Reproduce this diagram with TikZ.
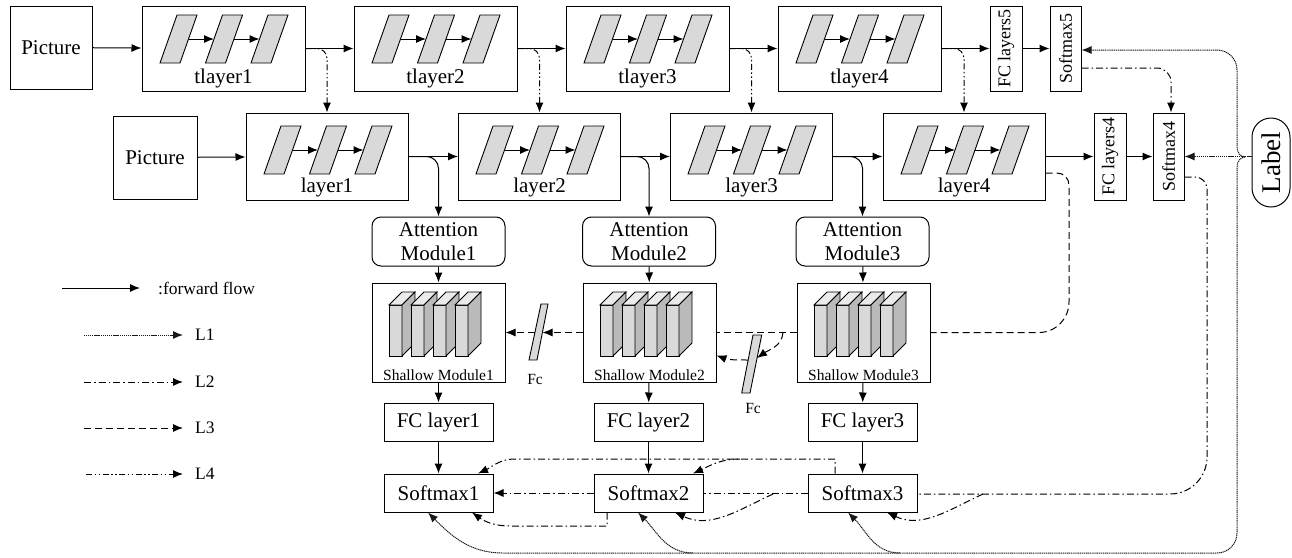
\documentclass[tikz,border=0pt]{standalone}
\usepackage{fontspec}
\setmainfont{Liberation Serif}
\usetikzlibrary{arrows.meta,calc}
\newcommand\fmain{\fontsize{21}{24}\selectfont}
\newcommand\fsmall{\fontsize{15.5}{18}\selectfont}
\newcommand\frot{\fontsize{18}{22}\selectfont}
\newcommand\fleg{\fontsize{17.5}{20}\selectfont}
\newcommand\paras[2]{%
  \foreach \k in {0,1,2}{\draw[parafill] ({#1+18+45.5*\k},{#2+48}) -- ++(20,0) -- ++(17,-48) -- ++(-20,0) -- cycle;}
  \foreach \k in {0,1}{\draw[flow] ({#1+46.5+45.5*\k},{#2+24}) -- ({#1+72+45.5*\k},{#2+24});}
}
\newcommand\blocks[1]{%
  \foreach \k in {0,1,2,3}{%
    \pgfmathsetmacro\bx{#1-49.5+22*\k}
    \draw[line width=0.8pt,fill=black!15] (\bx,305) rectangle ({\bx+13},356);
    \draw[line width=0.8pt,fill=black!8] (\bx,305) -- ({\bx+13},292) -- ({\bx+26},292) -- ({\bx+13},305) -- cycle;
    \draw[line width=0.8pt,fill=black!27] ({\bx+13},305) -- ({\bx+26},292) -- ({\bx+26},343) -- ({\bx+13},356) -- cycle;
  }
}
\begin{document}
\begin{tikzpicture}[x=1pt,y=-1pt,
  box/.style={draw, line width=1pt, inner sep=0pt, font=\fmain},
  tbox/.style={box, minimum width=163pt, minimum height=85pt},
  lbox/.style={box, minimum width=162pt, minimum height=87pt},
  lab/.style={label={[font=\fmain,anchor=south,inner sep=3pt]south:#1}},
  rotbox/.style={box, rotate=90, font=\frot, minimum height=32pt},
  attn/.style={box, rounded corners=9pt, minimum width=133pt, minimum height=49pt, align=center},
  shbox/.style={box, minimum width=133pt, minimum height=99pt, label={[font=\fsmall,anchor=south,inner sep=2pt]south:#1}},
  small/.style={box, minimum width=109pt, minimum height=38pt},
  parafill/.style={line width=0.9pt, fill=black!15},
  flow/.style={line width=1pt, -{Latex[length=10pt,width=8pt]}},
  tip/.style={-{Latex[length=10pt,width=8pt]}},
  l1/.style={line width=1pt, draw=black!90, dash pattern=on 1.2pt off 0.7pt},
  l2/.style={line width=1pt, dash pattern=on 7pt off 3pt on 1.5pt off 3pt},
  l3/.style={line width=1pt, dash pattern=on 7pt off 4pt},
  l4/.style={line width=1pt, dash pattern=on 6pt off 2.5pt on 1.5pt off 2.5pt on 1.5pt off 2.5pt},
  txt/.style={font=\fleg, anchor=west, inner sep=0pt}
]
\useasboundingbox (0,0) rectangle (1292,557);

% ---------- top (teacher) row ----------
\node[box, minimum width=82pt, minimum height=83pt] (pic1) at (51,47.5) {Picture};
\node[tbox, lab=tlayer1] (t1) at (223.5,48.5) {};
\node[tbox, lab=tlayer2] (t2) at (435.5,48.5) {};
\node[tbox, lab=tlayer3] (t3) at (647.5,48.5) {};
\node[tbox, lab=tlayer4] (t4) at (859.5,48.5) {};
\node[rotbox, minimum width=85pt] (fc5) at (1006,48.5) {FC layers5};
\node[rotbox, minimum width=85pt, minimum height=31pt] (sm5) at (1065.5,48.5) {Softmax5};
\paras{142}{15}\paras{354}{15}\paras{566}{15}\paras{778}{15}

% ---------- second (student) row ----------
\node[box, minimum width=84pt, minimum height=83pt] (pic2) at (155,157.5) {Picture};
\node[lbox, lab=layer1] (l1) at (327,156.5) {};
\node[lbox, lab=layer2] (l2) at (539.5,156.5) {};
\node[lbox, lab=layer3] (l3) at (751.5,156.5) {};
\node[lbox, lab=layer4] (l4) at (964,156.5) {};
\node[rotbox, minimum width=87pt] (fc4) at (1110,156.5) {FC layers4};
\node[rotbox, minimum width=87pt, minimum height=31pt] (sm4) at (1168.5,156.5) {Softmax4};
\node[box, rotate=90, rounded corners=19pt, minimum width=89pt, minimum height=38pt, font=\fontsize{27}{30}\selectfont] (label) at (1271,162.5) {Label};
\paras{246}{126}\paras{458}{126}\paras{670}{126}\paras{883}{126}

% ---------- branches ----------
\node[attn] (am1) at (438.5,241.5) {Attention\\Module1};
\node[attn] (am2) at (649,241.5) {Attention\\Module2};
\node[attn] (am3) at (862.5,241.5) {Attention\\Module3};
\node[shbox=Shallow Module1] (sh1) at (438.5,332.5) {};
\node[shbox=Shallow Module2] (sh2) at (649.5,332.5) {};
\node[shbox=Shallow Module3] (sh3) at (863.5,332.5) {};
\blocks{438.5}\blocks{649.5}\blocks{863.5}
\node[small] (fcl1) at (438.5,422) {FC layer1};
\node[small] (fcl2) at (648.5,422) {FC layer2};
\node[small] (fcl3) at (862.5,422) {FC layer3};
\node[small] (so1) at (438.5,493) {Softmax1};
\node[small] (so2) at (648.5,493) {Softmax2};
\node[small] (so3) at (862.5,493) {Softmax3};

% Fc parallelograms
\draw[parafill] (529,360) -- (537,360) -- (548,304) -- (541,304) -- cycle;
\draw[parafill] (741.7,393) -- (750,393) -- (761.7,335) -- (753,335) -- cycle;
\node[font=\fsmall] (fct1) at (535,379) {Fc};
\node[font=\fsmall] (fct2) at (753,408) {Fc};
\coordinate (fc1r) at (542.5,332.5);
\coordinate (fc1l) at (535,332.5);
\coordinate (fc2r) at (757,358);
\coordinate (fc2l) at (748,360);

% ---------- forward flow ----------
\draw[flow] (pic1) -- (t1);
\draw[flow] (t1) -- (t2);
\draw[flow] (t2) -- (t3);
\draw[flow] (t3) -- (t4);
\draw[flow] (t4) -- (fc5);
\draw[flow] (fc5) -- (sm5);
\draw[flow] (pic2) -- (l1);
\draw[flow] (l1) -- (l2);
\draw[flow] (l2) -- (l3);
\draw[flow] (l3) -- (l4);
\draw[flow] (l4) -- (fc4);
\draw[flow] (fc4) -- (sm4);
\draw[flow, rounded corners=12pt] (l1.east) -| (am1.north);
\draw[flow, rounded corners=12pt] (l2.east) -| (am2.north);
\draw[flow, rounded corners=12pt] (l3.east) -| (am3.north);
\foreach \i in {1,2,3}{
  \draw[flow] (am\i) -- (sh\i);
  \draw[flow] (sh\i) -- (fcl\i);
  \draw[flow] (fcl\i) -- (so\i);
}

% ---------- L4: teacher layers -> student layers ----------
\draw[l4, tip, rounded corners=10pt] (t1.east) -| (l1.north);
\draw[l4, tip, rounded corners=10pt] (t2.east) -| (l2.north);
\draw[l4, tip, rounded corners=10pt] (t3.east) -| (l3.north);
\draw[l4, tip, rounded corners=10pt] (t4.east) -| (l4.north);

% ---------- L2: Softmax5 -> Softmax4 (rotated nodes: south = right side, east = top) ----------
\draw[l2, tip, rounded corners=14pt] ([yshift=-19.5pt]sm5.south) -| ([xshift=2.5pt]sm4.east);

% ---------- L3: dashed feature path ----------
\draw[l3] ([yshift=-16.5pt]l4.east) -- (1057,173) to[out=0,in=90] (1069,185) -- (1069,302) to[out=-90,in=0] (1039,332.5) -- (sh3.east);
\draw[l3] (sh3.west) -- (sh2.east);
\draw[l3, tip] (783,332.5) to[out=-95,in=35] (fc2r);
\draw[l3, tip] (fc2l) to[out=180,in=-20] ([yshift=-23pt]sh2.east);
\draw[l3, tip] (sh2.west) -- (fc1r);
\draw[l3, tip] (fc1l) -- (sh1.east);

% ---------- L2: Softmax4 -> Softmax1..3 and among softmaxes ----------
\draw[l2] ([yshift=-20.5pt]sm4.south) -- (1195,177) to[out=0,in=90] (1207,189) -- (1207,457) to[out=-90,in=0] (1170,494) -- (so3.east |- 0,494);
\draw[l2] (so3.west) -- (so2.east);
\draw[l2, tip] (so2.west) -- (so1.east);
\draw[l2, tip] (983,494) to[out=205,in=-25] ([xshift=24.5pt]so3.south);
\draw[l2, tip] (773,494) to[out=205,in=-25] ([xshift=26.5pt]so2.south);
\draw[l2, tip] ([xshift=-41.5pt]so2.south) -- (607,526) -- (510,526) to[out=180,in=-35] ([xshift=33.5pt]so1.south);
\draw[l2, tip] ([xshift=-27.5pt]so3.north) -- (835,459) -- (515,459) to[out=180,in=25] ([xshift=39.5pt]so1.north);
\draw[l2, tip] (740,459) to[out=180,in=25] ([xshift=44.5pt]so2.north);

% ---------- L1: label ----------
\coordinate (bt) at (1245,157);
\coordinate (s5in) at (1081,50);
\draw[l1, tip] (label.north |- sm4.south) -- (sm4.south);
\draw[l1, tip] (bt) to[out=180,in=-90] (1237,147) -- (1237,70) to[out=90,in=0] (1217,50) -- (sm5.south |- s5in);
\draw[l1, tip] (bt) to[out=180,in=90] (1237,167) -- (1237,533) to[out=-90,in=0] (1217,553) -- (503,553) to[out=180,in=-45] ([xshift=-10.5pt]so1.south);
\draw[l1, tip] (693,553) to[out=180,in=-45] ([xshift=-10.5pt]so2.south);
\draw[l1, tip] (900,553) to[out=180,in=-45] ([xshift=-14.5pt]so3.south);

% ---------- legend ----------
\coordinate (g0) at (62,288);  \node[txt] (g0t) at (158,288) {:forward flow};
\coordinate (g1) at (84,335);  \node[txt] (g1t) at (195,335) {L1};
\coordinate (g2) at (84,382);  \node[txt] (g2t) at (195,382) {L2};
\coordinate (g3) at (84,428);  \node[txt] (g3t) at (195,428) {L3};
\coordinate (g4) at (86,474);  \node[txt] (g4t) at (195,474) {L4};
\draw[flow] (g0) -- (140,288);
\draw[l1, tip] (g1) -- ([xshift=-12pt]g1t.west);
\draw[l2, tip] (g2) -- ([xshift=-12pt]g2t.west);
\draw[l3, tip] (g3) -- ([xshift=-12pt]g3t.west);
\draw[l4, tip] (g4) -- ([xshift=-12pt]g4t.west);
\end{tikzpicture}
\end{document}
